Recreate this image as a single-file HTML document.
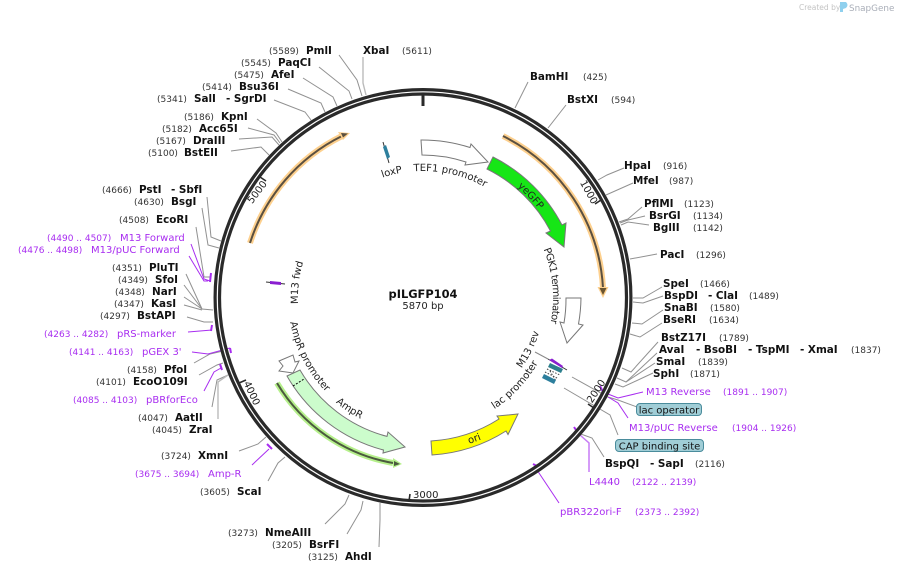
<!DOCTYPE html>
<html><head><meta charset="utf-8"><title>pILGFP104</title>
<style>
html,body{margin:0;padding:0;background:#fff}
svg{display:block}
text{font-family:"DejaVu Sans",sans-serif}
.e{font-size:10.4px;font-weight:bold;fill:#111}
.n{font-size:9px;fill:#333}
.p{font-size:10px;fill:#a82df0}
.q{font-size:9px;fill:#a82df0}
.f{font-size:10px;fill:#222}
.l{fill:none;stroke:#919191;stroke-width:1}
.pl{fill:none;stroke:#a82df0;stroke-width:1}
.t{fill:none;stroke:#a82df0;stroke-width:2}
</style></head><body>
<svg width="897" height="573" viewBox="0 0 897 573" xmlns="http://www.w3.org/2000/svg">
<defs>
<path id="a127" d="M313,234.5A127,127 0 0 1 533,234.5"/>
<path id="a130" d="M310.4,233A130,130 0 0 1 535.6,233"/>
<path id="a125" d="M314.7,235.5A125,125 0 0 1 531.3,235.5"/>
<path id="a146" d="M296.6,225A146,146 0 0 1 549.4,225"/>
<path id="b121" d="M318.2,358.5A121,121 0 0 0 527.8,358.5"/>
<path id="b132" d="M308.7,364A132,132 0 0 0 537.3,364"/>
<path id="b153" d="M290.5,374.5A153,153 0 0 0 555.5,374.5"/>
<path id="b136" d="M305.2,366A136,136 0 0 0 540.8,366"/>
<path id="b135" d="M306.1,365.5A135,135 0 0 0 539.9,365.5"/>
</defs>

<!-- watermark -->
<text x="799" y="10" style="font-size:7.5px;fill:#c4c4c4">Created by</text>
<path d="M840,2h6q3,3 0,6l-3,1v3h-3z" fill="#8fd0ee"/>
<text x="849" y="11" style="font-size:8.8px;fill:#a9aeb8">SnapGene</text>

<!-- leaders -->
<g>
<polyline class="l" points="339,55 357,80 362,96"/>
<polyline class="l" style="stroke:#bbb;stroke-width:1.4" points="363,57 363,83 366,95"/>
<polyline class="l" points="319,67 349,91 352,99"/>
<polyline class="l" points="303,78 333,97 337,106"/>
<polyline class="l" points="288,89 321,103 325,112"/>
<polyline class="l" points="274,100 305,112 311,120"/>
<polyline class="l" points="257,119 276,133 282,142"/>
<polyline class="l" points="248,128 274,135 280,143"/>
<polyline class="l" points="239,139 272,137 279,145"/>
<polyline class="l" points="231,151 261,147 269,155"/>
<polyline class="l" points="207,197 211,237 221,241"/>
<polyline class="l" points="202,208 208,245 219,248"/>
<polyline class="l" points="196,227 204,277 210,277"/>
<polyline class="l" points="186,274 202,309 213,310"/>
<polyline class="l" points="184,285 202,309"/>
<polyline class="l" points="184,297 202,309"/>
<polyline class="l" points="184,305 202,310"/>
<polyline class="l" points="187,317 204,322 213,322"/>
<polyline class="l" points="194,363 210,354 223,351"/>
<polyline class="l" points="199,375 217,365 223,363"/>
<polyline class="l" points="212,407 217,380 228,375"/>
<polyline class="l" style="stroke:#bbb;stroke-width:1.4" points="218,419 218,382 228,375"/>
<polyline class="l" points="239,451 258,444 266,437"/>
<polyline class="l" points="268,481 278,463 285,457"/>
<polyline class="l" points="325,524 345,504 349,495"/>
<polyline class="l" points="347,534 361,510 363,501"/>
<polyline class="l" points="379,547 380,520 380,503"/>
<polyline class="l" points="528,82 515,108"/>
<polyline class="l" points="566,105 548,128"/>
<polyline class="l" points="624,168 607,175 598,180"/>
<polyline class="l" points="633,183 606,195"/>
<polyline class="l" points="642,207 628,219 619,222"/>
<polyline class="l" points="645,216 628,220 620,223"/>
<polyline class="l" points="649,225 628,222 621,225"/>
<polyline class="l" points="657,254 630,259"/>
<polyline class="l" points="662,287 643,298 633,298"/>
<polyline class="l" points="663,296 643,303 633,302"/>
<polyline class="l" points="663,310 642,324 632,323"/>
<polyline class="l" points="662,323 640,337 630,334"/>
<polyline class="l" points="658,342 631,372 622,368"/>
<polyline class="l" points="657,353 626,382 617,378"/>
<polyline class="l" points="655,363 626,382"/>
<polyline class="l" points="653,373 623,387 615,384"/>
<polyline class="l" points="572,377 608,397 618,400 637,407"/>
<polyline class="l" points="618,435 610,415 564,388"/>
<polyline class="l" points="604,457 592,438 578,433"/>
<polyline class="l" style="stroke:#888" points="535,352 548,359"/>
</g>
<g>
<polyline class="pl" points="191,244 204,279 210,281"/>
<polyline class="pl" points="189,256 204,281 208,281"/>
<path class="t" d="M211,273L210,282"/>
<polyline class="pl" points="188,332 212,330"/>
<path class="t" d="M212,325L211,331"/>
<polyline class="pl" points="192,352 208,354 230,348"/>
<path class="t" d="M230,348L231,353"/>
<polyline class="pl" points="204,391 214,372 221,368"/>
<path class="t" d="M220,364L222,370"/>
<polyline class="pl" points="252,465 269,449"/>
<path class="t" d="M267,444L272,449"/>
<polyline class="pl" points="643,392 618,398 608,394"/>
<path class="t" d="M600,386L603,392"/>
<polyline class="pl" points="628,418 618,403 608,397"/>
<polyline class="pl" style="stroke:#c77cf5;stroke-width:1.5" points="589,472 589,443 580,435"/>
<path class="t" d="M574,427L576,430"/>
<polyline class="pl" points="559,503 537,470"/>
<path class="t" d="M533,464L537,466"/>
</g>

<!-- backbone -->
<circle cx="423" cy="297.5" r="205.7" fill="none" stroke="#2a2a2a" stroke-width="7.6"/>
<circle cx="423" cy="297.5" r="205.7" fill="none" stroke="#fff" stroke-width="1.2"/>
<path d="M423,94V106" stroke="#2a2a2a" stroke-width="3"/>
<g stroke="#2a2a2a" stroke-width="1.6">
<path d="M601,200L595,204"/>
<path d="M594,408L588,404"/>
<path d="M409,501L410,494"/>
<path d="M239,383L246,380"/>
<path d="M260,177L266,181"/>
</g>
<g class="f" style="font-size:10px;fill:#222" text-anchor="middle">
<text transform="translate(589,192) rotate(61)" y="3.5">1000</text>
<text transform="translate(596,391) rotate(-57)" y="3.5">2000</text>
<text transform="translate(252,393) rotate(65)" y="3.5">4000</text>
<text transform="translate(257,192) rotate(-53)" y="3.5">5000</text>
</g>
<text x="413" y="498" class="f">3000</text>

<!-- primer-binding arcs -->
<g fill="none" stroke-linecap="butt">
<path d="M503,136A181,181 0 0 1 603,288" stroke="#fdd08e" stroke-width="6"/>
<path d="M503,136A181,181 0 0 1 603,288" stroke="#5b5040" stroke-width="2"/>
<path d="M250,243A181,181 0 0 1 342,136" stroke="#fdd08e" stroke-width="6"/>
<path d="M250,243A181,181 0 0 1 342,136" stroke="#5b5040" stroke-width="2"/>
<path d="M277,383A169,169 0 0 0 393,463" stroke="#b6f08c" stroke-width="6"/>
<path d="M277,383A169,169 0 0 0 393,463" stroke="#4b5a3e" stroke-width="2"/>
</g>
<path d="M597.5,287H608.5L603,298Z" fill="#fdd08e"/>
<path d="M599.5,288H606.5L603,295Z" fill="#6b5530"/>
<path d="M338,132L350,133L343,140Z" fill="#fdd08e"/>
<path d="M341,133L348,133.500L343,137.500Z" fill="#5b5040"/>
<path d="M393,458L402,464L393,468Z" fill="#b6f08c"/>
<path d="M394,461L400,464L394,466Z" fill="#4b5a3e"/>

<!-- features -->
<g stroke="#777" stroke-width="1">
<path d="M421,140A158,158 0 0 1 470,147.5L471,144L488,162L465,165L466,162A143,143 0 0 0 422,155Z" fill="#fff"/>
<path d="M493,157A157,157 0 0 1 562,225L566,223L564,247L546,233L550.5,231A144,144 0 0 0 487,169Z" fill="#16e616"/>
<path d="M581,298A158,158 0 0 1 578.5,324L583,325L567,343L560,322L564,323A143,143 0 0 0 566,298Z" fill="#fff"/>
<path d="M431,441A143,143 0 0 0 499,419L497,416L518,414L508,434.5L506,431A157,157 0 0 1 432,455Z" fill="#ffff00"/>
<path d="M287,376A157,157 0 0 0 383.5,450L383,453L405,447L388,432L387,436.4A143,143 0 0 1 300,370Z" fill="#ccfccc"/>
<path d="M279,361L293,355L295,362L299,361L293,373L279,371L283,366Z" fill="#fff"/>
</g>
<path d="M293,386L304,379" stroke="#000" stroke-width="1" stroke-dasharray="2 1.5"/>

<!-- loxP -->
<path d="M383,142L389,163" stroke="#333" stroke-width="1"/>
<path d="M383,147L386,145L390,157L387,159Z" fill="#2d7f9d"/>
<!-- M13 fwd -->
<path d="M266,282L285,284" stroke="#333" stroke-width="1"/>
<path d="M270,281L281,282L281,285L270,284Z" fill="#8a1fd0"/>
<!-- M13 rev / lac cluster -->
<path d="M548,359L567,370" stroke="#333" stroke-width="1"/>
<path d="M549,360L552,358.5L563,366L562,368Z" fill="#8a1fd0"/>
<path d="M550,363L563,369L561,373L548,367Z" fill="#2d7f8d"/>
<g stroke="#444" stroke-width="1" stroke-dasharray="1.5 1.500" fill="none">
<path d="M547,369L560,375"/><path d="M545,372L558,378.500"/><path d="M550,371L556,381"/>
</g>
<path d="M544,374L556,380L554,384L542,378Z" fill="#2d7f9d"/>

<!-- curved feature labels -->
<g class="f" text-anchor="middle">
<text transform="rotate(12.5 423 298)"><textPath href="#a127" startOffset="50%">TEF1 promoter</textPath></text>
<text transform="rotate(-14 423 298)"><textPath href="#a127" startOffset="50%">loxP</textPath></text>
<text transform="rotate(84.5 423 298)" style="letter-spacing:-.55px"><textPath href="#a130" startOffset="50%">PGK1 terminator</textPath></text>
<text transform="rotate(277 423 298)"><textPath href="#a125" startOffset="50%">M13 fwd</textPath></text>
<text transform="rotate(46.5 423 298)"><textPath href="#a146" startOffset="50%">yeGFP</textPath></text>
<text transform="rotate(-64 423 298)"><textPath href="#b121" startOffset="50%">M13 rev</textPath></text>
<text transform="rotate(-46.6 423 298)"><textPath href="#b132" startOffset="50%">lac promoter</textPath></text>
<text transform="rotate(-20 423 298)"><textPath href="#b153" startOffset="50%">ori</textPath></text>
<text transform="rotate(33.6 423 298)"><textPath href="#b136" startOffset="50%">AmpR</textPath></text>
<text transform="rotate(62.8 423 298)"><textPath href="#b135" startOffset="50%">AmpR promoter</textPath></text>
</g>

<!-- title -->
<text x="423" y="298" text-anchor="middle" style="font-size:11.4px;font-weight:bold;fill:#111">pILGFP104</text>
<text x="423" y="309" text-anchor="middle" style="font-size:10px;fill:#222">5870 bp</text>

<!-- left/top labels -->
<text x="269" y="54" class="n">(5589)</text><text x="306" y="54" class="e">PmlI</text>
<text x="363" y="54" class="e">XbaI</text><text x="402" y="54" class="n">(5611)</text>
<text x="241" y="66" class="n">(5545)</text><text x="278" y="66" class="e">PaqCI</text>
<text x="234" y="78" class="n">(5475)</text><text x="271" y="78" class="e">AfeI</text>
<text x="202" y="90" class="n">(5414)</text><text x="239" y="90" class="e">Bsu36I</text>
<text x="157" y="102" class="n">(5341)</text><text x="194" y="102" class="e">SalI</text><text x="226" y="102" class="e">- SgrDI</text>
<text x="184" y="120" class="n">(5186)</text><text x="221" y="120" class="e">KpnI</text>
<text x="162" y="132" class="n">(5182)</text><text x="199" y="132" class="e">Acc65I</text>
<text x="156" y="144" class="n">(5167)</text><text x="193" y="144" class="e">DraIII</text>
<text x="148" y="156" class="n">(5100)</text><text x="184" y="156" class="e">BstEII</text>
<text x="102" y="193" class="n">(4666)</text><text x="139" y="193" class="e">PstI</text><text x="171" y="193" class="e">- SbfI</text>
<text x="134" y="205" class="n">(4630)</text><text x="171" y="205" class="e">BsgI</text>
<text x="119" y="223" class="n">(4508)</text><text x="156" y="223" class="e">EcoRI</text>
<text x="47" y="241" class="q">(4490 .. 4507)</text><text x="120" y="241" class="p">M13 Forward</text>
<text x="18" y="253" class="q">(4476 .. 4498)</text><text x="91" y="253" class="p">M13/pUC Forward</text>
<text x="112" y="271" class="n">(4351)</text><text x="149" y="271" class="e">PluTI</text>
<text x="118" y="283" class="n">(4349)</text><text x="155" y="283" class="e">SfoI</text>
<text x="115" y="295" class="n">(4348)</text><text x="152" y="295" class="e">NarI</text>
<text x="114" y="307" class="n">(4347)</text><text x="151" y="307" class="e">KasI</text>
<text x="100" y="319" class="n">(4297)</text><text x="137" y="319" class="e">BstAPI</text>
<text x="44" y="337" class="q">(4263 .. 4282)</text><text x="117" y="337" class="p">pRS-marker</text>
<text x="69" y="355" class="q">(4141 .. 4163)</text><text x="142" y="355" class="p">pGEX 3'</text>
<text x="127" y="373" class="n">(4158)</text><text x="164" y="373" class="e">PfoI</text>
<text x="96" y="385" class="n">(4101)</text><text x="133" y="385" class="e">EcoO109I</text>
<text x="73" y="403" class="q">(4085 .. 4103)</text><text x="146" y="403" class="p">pBRforEco</text>
<text x="138" y="421" class="n">(4047)</text><text x="175" y="421" class="e">AatII</text>
<text x="152" y="433" class="n">(4045)</text><text x="189" y="433" class="e">ZraI</text>
<text x="161" y="459" class="n">(3724)</text><text x="198" y="459" class="e">XmnI</text>
<text x="135" y="477" class="q">(3675 .. 3694)</text><text x="208" y="477" class="p">Amp-R</text>
<text x="200" y="495" class="n">(3605)</text><text x="237" y="495" class="e">ScaI</text>
<text x="228" y="536" class="n">(3273)</text><text x="265" y="536" class="e">NmeAIII</text>
<text x="272" y="548" class="n">(3205)</text><text x="309" y="548" class="e">BsrFI</text>
<text x="308" y="560" class="n">(3125)</text><text x="345" y="560" class="e">AhdI</text>

<!-- right labels -->
<text x="530" y="80" class="e">BamHI</text><text x="583" y="80" class="n">(425)</text>
<text x="567" y="103" class="e">BstXI</text><text x="611" y="103" class="n">(594)</text>
<text x="624" y="169" class="e">HpaI</text><text x="663" y="169" class="n">(916)</text>
<text x="633" y="184" class="e">MfeI</text><text x="669" y="184" class="n">(987)</text>
<text x="644" y="207" class="e">PflMI</text><text x="684" y="207" class="n">(1123)</text>
<text x="649" y="219" class="e">BsrGI</text><text x="693" y="219" class="n">(1134)</text>
<text x="653" y="231" class="e">BglII</text><text x="693" y="231" class="n">(1142)</text>
<text x="660" y="258" class="e">PacI</text><text x="696" y="258" class="n">(1296)</text>
<text x="663" y="287" class="e">SpeI</text><text x="700" y="287" class="n">(1466)</text>
<text x="664" y="299" class="e">BspDI</text><text x="708" y="299" class="e">- ClaI</text><text x="749" y="299" class="n">(1489)</text>
<text x="664" y="311" class="e">SnaBI</text><text x="710" y="311" class="n">(1580)</text>
<text x="663" y="323" class="e">BseRI</text><text x="709" y="323" class="n">(1634)</text>
<text x="661" y="341" class="e">BstZ17I</text><text x="719" y="341" class="n">(1789)</text>
<text x="659" y="353" class="e">AvaI</text><text x="696" y="353" class="e">- BsoBI</text><text x="748" y="353" class="e">- TspMI</text><text x="800" y="353" class="e">- XmaI</text><text x="851" y="353" class="n">(1837)</text>
<text x="656" y="365" class="e">SmaI</text><text x="698" y="365" class="n">(1839)</text>
<text x="653" y="377" class="e">SphI</text><text x="690" y="377" class="n">(1871)</text>
<text x="646" y="395" class="p">M13 Reverse</text><text x="723" y="395" class="q">(1891 .. 1907)</text>
<rect x="636.5" y="403.5" width="65" height="12" rx="3.5" fill="#a0cdd6" stroke="#4a8c9c"/>
<text x="669" y="413.500" text-anchor="middle" class="f" style="fill:#111">lac operator</text>
<text x="629" y="431" class="p">M13/pUC Reverse</text><text x="732" y="431" class="q">(1904 .. 1926)</text>
<rect x="615.500" y="439.500" width="88" height="12" rx="3.5" fill="#a0cdd6" stroke="#4a8c9c"/>
<text x="659.500" y="449.500" text-anchor="middle" class="f" style="fill:#111">CAP binding site</text>
<text x="605" y="467" class="e">BspQI</text><text x="650" y="467" class="e">- SapI</text><text x="695" y="467" class="n">(2116)</text>
<text x="589" y="485" class="p">L4440</text><text x="632" y="485" class="q">(2122 .. 2139)</text>
<text x="560" y="515" class="p">pBR322ori-F</text><text x="635" y="515" class="q">(2373 .. 2392)</text>
</svg>
</body></html>
